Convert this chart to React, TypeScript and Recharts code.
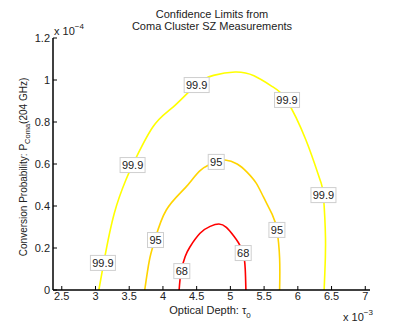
import { ComposedChart, Line, XAxis, YAxis, ReferenceDot } from "recharts";

// tick values
const xTicks = [2.5, 3, 3.5, 4, 4.5, 5, 5.5, 6, 6.5, 7];
const yTicks = [0, 0.2, 0.4, 0.6, 0.8, 1, 1.2];

// contour paths, [tau0 (x1e-3), P (x1e-4)]
const contour999 = [
  [3.05, 0], [3.13, 0.143], [3.28, 0.367], [3.45, 0.524], [3.55, 0.595],
  [3.85, 0.776], [4.15, 0.871], [4.49, 0.976], [4.75, 1.022], [5.07, 1.038],
  [5.35, 1.02], [5.63, 0.967], [5.84, 0.9], [6.12, 0.714], [6.33, 0.524],
  [6.38, 0.45], [6.41, 0.25], [6.4, 0.08], [6.39, 0],
];
const contour95 = [
  [3.73, 0], [3.8, 0.143], [3.88, 0.238], [4.05, 0.381], [4.34, 0.49],
  [4.56, 0.571], [4.79, 0.61], [4.92, 0.619], [5.1, 0.6], [5.25, 0.56],
  [5.38, 0.51], [5.49, 0.443], [5.62, 0.36], [5.69, 0.286], [5.73, 0.15],
  [5.73, 0],
];
const contour68 = [
  [4.24, 0], [4.27, 0.09], [4.33, 0.16], [4.4, 0.205], [4.55, 0.27],
  [4.7, 0.303], [4.83, 0.314], [4.94, 0.298], [5.05, 0.257], [5.12, 0.225],
  [5.19, 0.176], [5.22, 0.1], [5.23, 0],
];

// where the level labels sit
const labels999 = [[3.11, 0.129], [3.55, 0.595], [4.5, 0.976], [5.84, 0.905], [6.38, 0.452]];
const labels95 = [[3.89, 0.238], [4.79, 0.61], [5.69, 0.286]];
const labels68 = [[4.28, 0.09], [5.19, 0.176]];

const FONT = "'Liberation Sans', Arial, Helvetica, sans-serif";
const TEXT = "#222";

const toRows = (pts: number[][]) => pts.map(([x, y]) => ({ x, y }));

const levels = [
  { name: "99.9", color: "#ffff00", path: contour999, labels: labels999 },
  { name: "95", color: "#ffd400", path: contour95, labels: labels95 },
  { name: "68", color: "#ff0000", path: contour68, labels: labels68 },
];

const boxLabel = (text: string) => (props: any) => {
  const { cx, cy } = props;
  if (cx == null || cy == null) return <g />;
  const w = text.length > 2 ? 25 : 16;
  return (
    <g>
      <rect x={cx - w / 2} y={cy - 7.5} width={w} height={15} fill="#fff" stroke="#cfcfcf" />
      <text x={cx} y={cy + 4} textAnchor="middle" fontSize={11} fontFamily={FONT} fill={TEXT}>
        {text}
      </text>
    </g>
  );
};

const noTick = () => <g />;

export default function App() {
  return (
    <div style={{ position: "absolute", left: 0, top: 0, width: 409, height: 330, background: "#fff" }}>
      <ComposedChart
        width={409}
        height={330}
        margin={{ top: 38, right: 39, bottom: 10, left: 0 }}
        style={{ fontFamily: FONT }}
      >
        <XAxis
          type="number"
          dataKey="x"
          domain={[2.37, 7.07]}
          allowDataOverflow
          ticks={xTicks}
          interval={0}
          height={30}
          tickSize={-4}
          tickMargin={6}
          axisLine={{ stroke: "#000", strokeWidth: 1.5 }}
          tickLine={{ stroke: "#000" }}
          tick={{ fill: TEXT, fontSize: 11 }}
        />
        <XAxis
          xAxisId="top"
          orientation="top"
          type="number"
          domain={[2.37, 7.07]}
          allowDataOverflow
          ticks={xTicks}
          interval={0}
          height={0}
          tickSize={-4}
          axisLine={{ stroke: "#000", strokeWidth: 1.5 }}
          tickLine={{ stroke: "#000" }}
          tick={noTick}
        />
        <YAxis
          type="number"
          dataKey="y"
          domain={[0, 1.2]}
          allowDataOverflow
          ticks={yTicks}
          interval={0}
          width={53}
          tickSize={-4}
          tickMargin={7}
          axisLine={{ stroke: "#000", strokeWidth: 1.5 }}
          tickLine={{ stroke: "#000" }}
          tick={{ fill: TEXT, fontSize: 11 }}
        />
        <YAxis
          yAxisId="right"
          orientation="right"
          type="number"
          domain={[0, 1.2]}
          allowDataOverflow
          ticks={yTicks}
          interval={0}
          width={0}
          tickSize={-4}
          axisLine={{ stroke: "#000", strokeWidth: 1.5 }}
          tickLine={{ stroke: "#000" }}
          tick={noTick}
        />

        {levels.map((lv) => (
          <Line
            key={lv.name}
            data={toRows(lv.path)}
            dataKey="y"
            type="natural"
            stroke={lv.color}
            strokeWidth={1.6}
            dot={false}
            activeDot={false}
            isAnimationActive={false}
          />
        ))}

        {levels.flatMap((lv) =>
          lv.labels.map(([x, y], i) => (
            <ReferenceDot
              key={`${lv.name}-${i}`}
              x={x}
              y={y}
              r={0}
              ifOverflow="visible"
              shape={boxLabel(lv.name)}
            />
          ))
        )}

        <text x={212} y={18} textAnchor="middle" fontSize={11} fontFamily={FONT} fill={TEXT}>
          Confidence Limits from
        </text>
        <text x={212} y={30} textAnchor="middle" fontSize={11} fontFamily={FONT} fill={TEXT}>
          Coma Cluster SZ Measurements
        </text>

        <text x={54} y={35} fontSize={11} fontFamily={FONT} fill={TEXT}>
          x 10<tspan dy={-6} fontSize={8}>−4</tspan>
        </text>
        <text x={343} y={321} fontSize={11} fontFamily={FONT} fill={TEXT}>
          x 10<tspan dy={-6} fontSize={8}>−3</tspan>
        </text>

        <text x={210} y={314} textAnchor="middle" fontSize={11} fontFamily={FONT} fill={TEXT}>
          Optical Depth: τ<tspan dy={4} fontSize={8}>0</tspan>
        </text>

        <text
          transform="rotate(-90)"
          x={-167}
          y={27}
          textAnchor="middle"
          fontSize={10}
          fontFamily={FONT}
          fill={TEXT}
        >
          Conversion Probability: P<tspan dy={3} fontSize={7.5}>Coma</tspan>
          <tspan dy={-3}>(204 GHz)</tspan>
        </text>
      </ComposedChart>
    </div>
  );
}
